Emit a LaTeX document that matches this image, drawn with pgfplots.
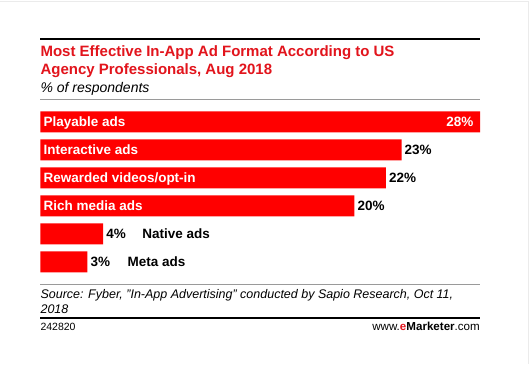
\documentclass[border=0pt]{standalone}
\usepackage{pgfplots}
\pgfplotsset{compat=1.18}
\usepackage{fontspec}
\setmainfont{Liberation Sans}
\definecolor{barred}{HTML}{FF0000}
\definecolor{titlered}{HTML}{E2141C}
\definecolor{rulegray}{HTML}{9A9A9A}
\begin{document}
\begin{tikzpicture}
\fill[white] (0pt,0pt) rectangle (532pt,-364pt);
\draw[black!8,line width=0.8pt] (0pt,-1pt) -- (528pt,-1pt) -- (528pt,-364pt);
% rules
\draw[black,line width=2.2pt] (40pt,-39pt) -- (480pt,-39pt);
\draw[rulegray,line width=1pt] (40pt,-99.5pt) -- (480pt,-99.5pt);
\draw[rulegray,line width=1pt] (40pt,-285pt) -- (480pt,-285pt);
\draw[black,line width=2.2pt] (40pt,-318pt) -- (480pt,-318pt);
% titles
\node[anchor=base west,inner sep=0pt,text=titlered,font=\fontsize{15}{18}\selectfont\bfseries] at (40pt,-56.5pt) {Most Effective In-App Ad Format According to US};
\node[anchor=base west,inner sep=0pt,text=titlered,font=\fontsize{15}{18}\selectfont\bfseries] at (40pt,-74.5pt) {Agency Professionals, Aug 2018};
\node[anchor=base west,inner sep=0pt,font=\fontsize{14}{17}\selectfont\itshape] at (40pt,-92.5pt) {\% of respondents};
% source
\node[anchor=base west,inner sep=0pt,font=\fontsize{12.5}{14}\selectfont\itshape] at (40pt,-299pt) {Source: Fyber, "In-App Advertising" conducted by Sapio Research, Oct 11,};
\node[anchor=base west,inner sep=0pt,font=\fontsize{12.5}{14}\selectfont\itshape] at (40pt,-313.3pt) {2018};
\node[anchor=base west,inner sep=0pt,font=\fontsize{10.5}{12}\selectfont] at (40pt,-331pt) {242820};
\node[anchor=base east,inner sep=0pt,font=\fontsize{11.6}{13}\selectfont] at (480pt,-331pt) {www.{\bfseries\textcolor{titlered}{e}Marketer}.com};
\begin{axis}[
  at={(40pt,-276pt)}, anchor=south west,
  scale only axis, width=440pt, height=168pt,
  xmin=0, xmax=28, ymin=0.5, ymax=6.5,
  y dir=reverse, hide axis, clip=false,
  xbar, bar width=21pt,
]
\addplot[fill=barred, draw=none, bar shift=0pt] coordinates {
  (28,1) (23,2) (22,3) (20,4) (4,5) (3,6)
};
\begin{scope}[every node/.style={inner sep=0pt,font=\fontsize{13.5}{15}\selectfont\bfseries}]
\node[anchor=base west,text=white,xshift=3pt,yshift=-4.7pt] at (axis cs:0,1) {Playable ads};
\node[anchor=base west,text=white,xshift=3pt,yshift=-4.7pt] at (axis cs:0,2) {Interactive ads};
\node[anchor=base west,text=white,xshift=3pt,yshift=-4.7pt] at (axis cs:0,3) {Rewarded videos/opt-in};
\node[anchor=base west,text=white,xshift=3pt,yshift=-4.7pt] at (axis cs:0,4) {Rich media ads};
\node[anchor=base east,text=white,xshift=-6.5pt,yshift=-4.7pt] at (axis cs:28,1) {28\%};
\node[anchor=base west,xshift=3pt,yshift=-4.7pt] at (axis cs:23,2) {23\%};
\node[anchor=base west,xshift=3pt,yshift=-4.7pt] at (axis cs:22,3) {22\%};
\node[anchor=base west,xshift=3pt,yshift=-4.7pt] at (axis cs:20,4) {20\%};
\node[anchor=base west,xshift=3pt,yshift=-4.7pt] at (axis cs:4,5) {4\%};
\node[anchor=base west,xshift=3pt,yshift=-4.7pt] at (axis cs:3,6) {3\%};
\node[anchor=base west,xshift=39pt,yshift=-4.7pt] at (axis cs:4,5) {Native ads};
\node[anchor=base west,xshift=40pt,yshift=-4.7pt] at (axis cs:3,6) {Meta ads};
\end{scope}
\end{axis}
\end{tikzpicture}
\end{document}
